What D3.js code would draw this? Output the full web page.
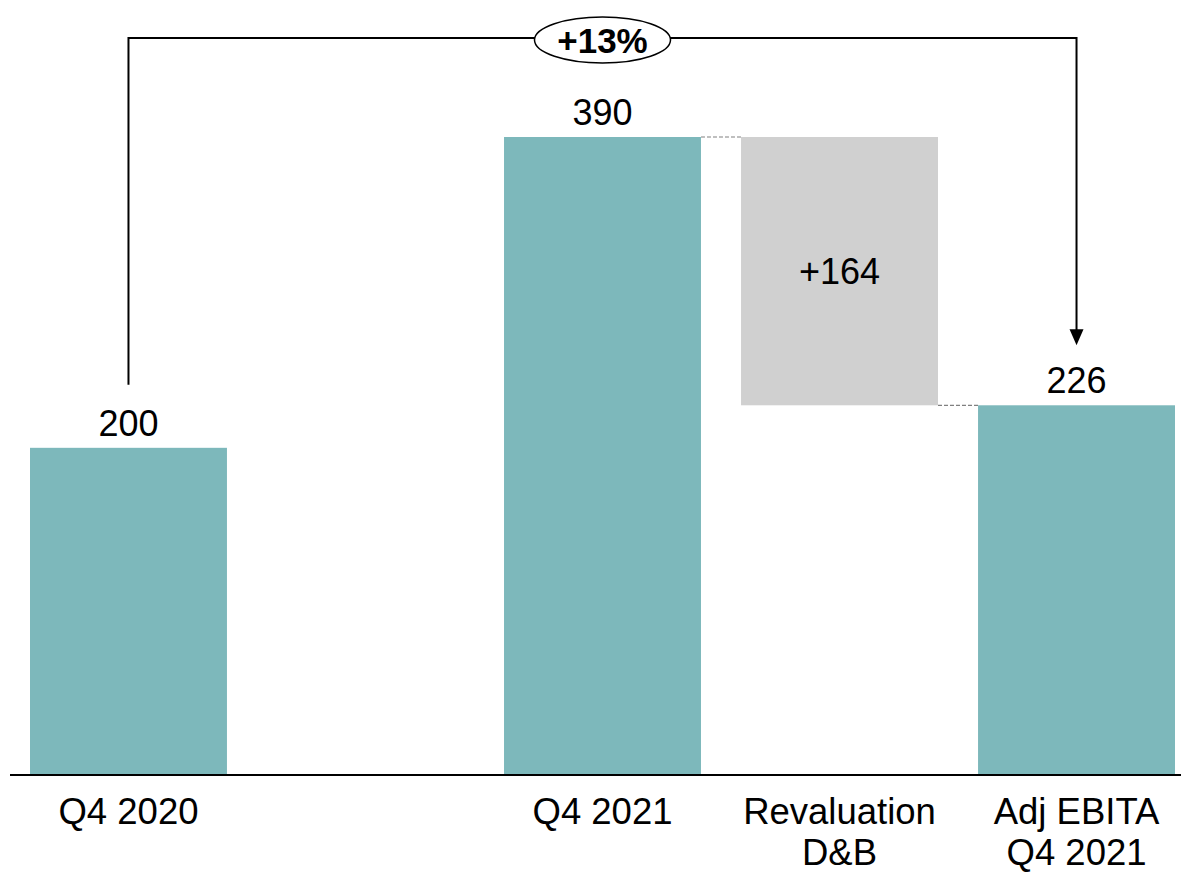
<html><head>
  <script src="https://d3js.org/d3.v7.min.js"></script>
  <style>
    body { margin: 0; background: #fff; }
    text { font-family: 'Liberation Sans', Arial, sans-serif; }
  </style>
</head>
<body>
  <script>
    // Data
    const categories = ["Q4 2020", "", "Q4 2021", "Revaluation\nD&B", "Adj EBITA\nQ4 2021"]
    const barStart = [0, null, 0, 226, 0]
    const barEnd = [200, null, 390, 390, 226]
    const barLabels = ["200", "", "390", "+164", "226"]
    const barKind = ["total", "none", "total", "delta", "total"]
    const growthLabel = "+13%"

    const width = 1181, height = 872
    const svg = d3.select("body").append("svg")
                  .attr("width", width)
                  .attr("height", height)

    const x = d3.scaleBand().domain(categories).range([30, 1175]).paddingInner(0.169).paddingOuter(0)
    const y = d3.scaleLinear().domain([0, 390]).range([775, 137])

    const bars = categories.map((c, i) => ({c, s: barStart[i], e: barEnd[i], label: barLabels[i], kind: barKind[i]}))
                           .filter(d => d.kind != "none")

    // bars
    svg.selectAll("rect.bar").data(bars)
       .join("rect")
       .attr("class", "bar")
       .attr("x", d => x(d.c))
       .attr("width", x.bandwidth())
       .attr("y", d => y(d.e))
       .attr("height", d => y(d.s) - y(d.e))
       .attr("fill", d => d.kind == "delta" ? "#d0d0d0" : "#7db8bb")

    // dashed connectors
    const conn = [[2, 3, 390], [3, 4, 226]]
    svg.selectAll("line.conn").data(conn)
       .join("line")
       .attr("x1", d => x(categories[d[0]]) + x.bandwidth())
       .attr("x2", d => x(categories[d[1]]))
       .attr("y1", d => y(d[2]))
       .attr("y2", d => y(d[2]))
       .attr("stroke", "#808080")
       .attr("stroke-width", 1.2)
       .attr("stroke-dasharray", "4,2")

    // value labels
    svg.selectAll("text.val").data(bars)
       .join("text")
       .attr("x", d => x(d.c) + x.bandwidth() / 2)
       .attr("y", d => d.kind == "delta" ? (y(d.s) + y(d.e)) / 2 + 13 : y(d.e) - 12)
       .attr("text-anchor", "middle")
       .style("font-size", "36px")
       .attr("fill", "#000")
       .text(d => d.label)

    // baseline
    svg.append("line")
       .attr("x1", 10).attr("x2", width)
       .attr("y1", y(0)).attr("y2", y(0))
       .attr("stroke", "#000").attr("stroke-width", 2)

    // category labels
    svg.selectAll("text.cat").data(categories.filter(c => c != ""))
       .join("text")
       .attr("text-anchor", "middle")
       .style("font-size", "36.5px")
       .attr("fill", "#000")
       .each(function(c) {
         const lines = c.split("\n")
         lines.forEach((l, i) => {
           d3.select(this).append("tspan")
             .attr("x", x(c) + x.bandwidth() / 2)
             .attr("y", 824 + i * 41)
             .text(l)
         })
       })

    // growth bracket
    const lx = x(categories[0]) + x.bandwidth() / 2
    const rx = x(categories[4]) + x.bandwidth() / 2
    const topY = 38
    const leftBottom = y(200) - 63
    const arrowTip = y(226) - 60
    svg.append("path")
       .attr("d", `M${lx},${leftBottom} V${topY} H${rx} V${arrowTip - 14}`)
       .attr("fill", "none")
       .attr("stroke", "#000")
       .attr("stroke-width", 2)
    svg.append("path")
       .attr("d", `M${rx - 7},${arrowTip - 16} L${rx + 7},${arrowTip - 16} L${rx},${arrowTip} Z`)
       .attr("fill", "#000")

    const mid = x(categories[2]) + x.bandwidth() / 2
    svg.append("ellipse")
       .attr("cx", mid).attr("cy", 40)
       .attr("rx", 68).attr("ry", 23)
       .attr("fill", "#fff")
       .attr("stroke", "#000")
       .attr("stroke-width", 1.5)
    svg.append("text")
       .attr("x", mid).attr("y", 53)
       .attr("text-anchor", "middle")
       .style("font-size", "35px")
       .style("font-weight", "bold")
       .text(growthLabel)
  </script>
</body></html>
